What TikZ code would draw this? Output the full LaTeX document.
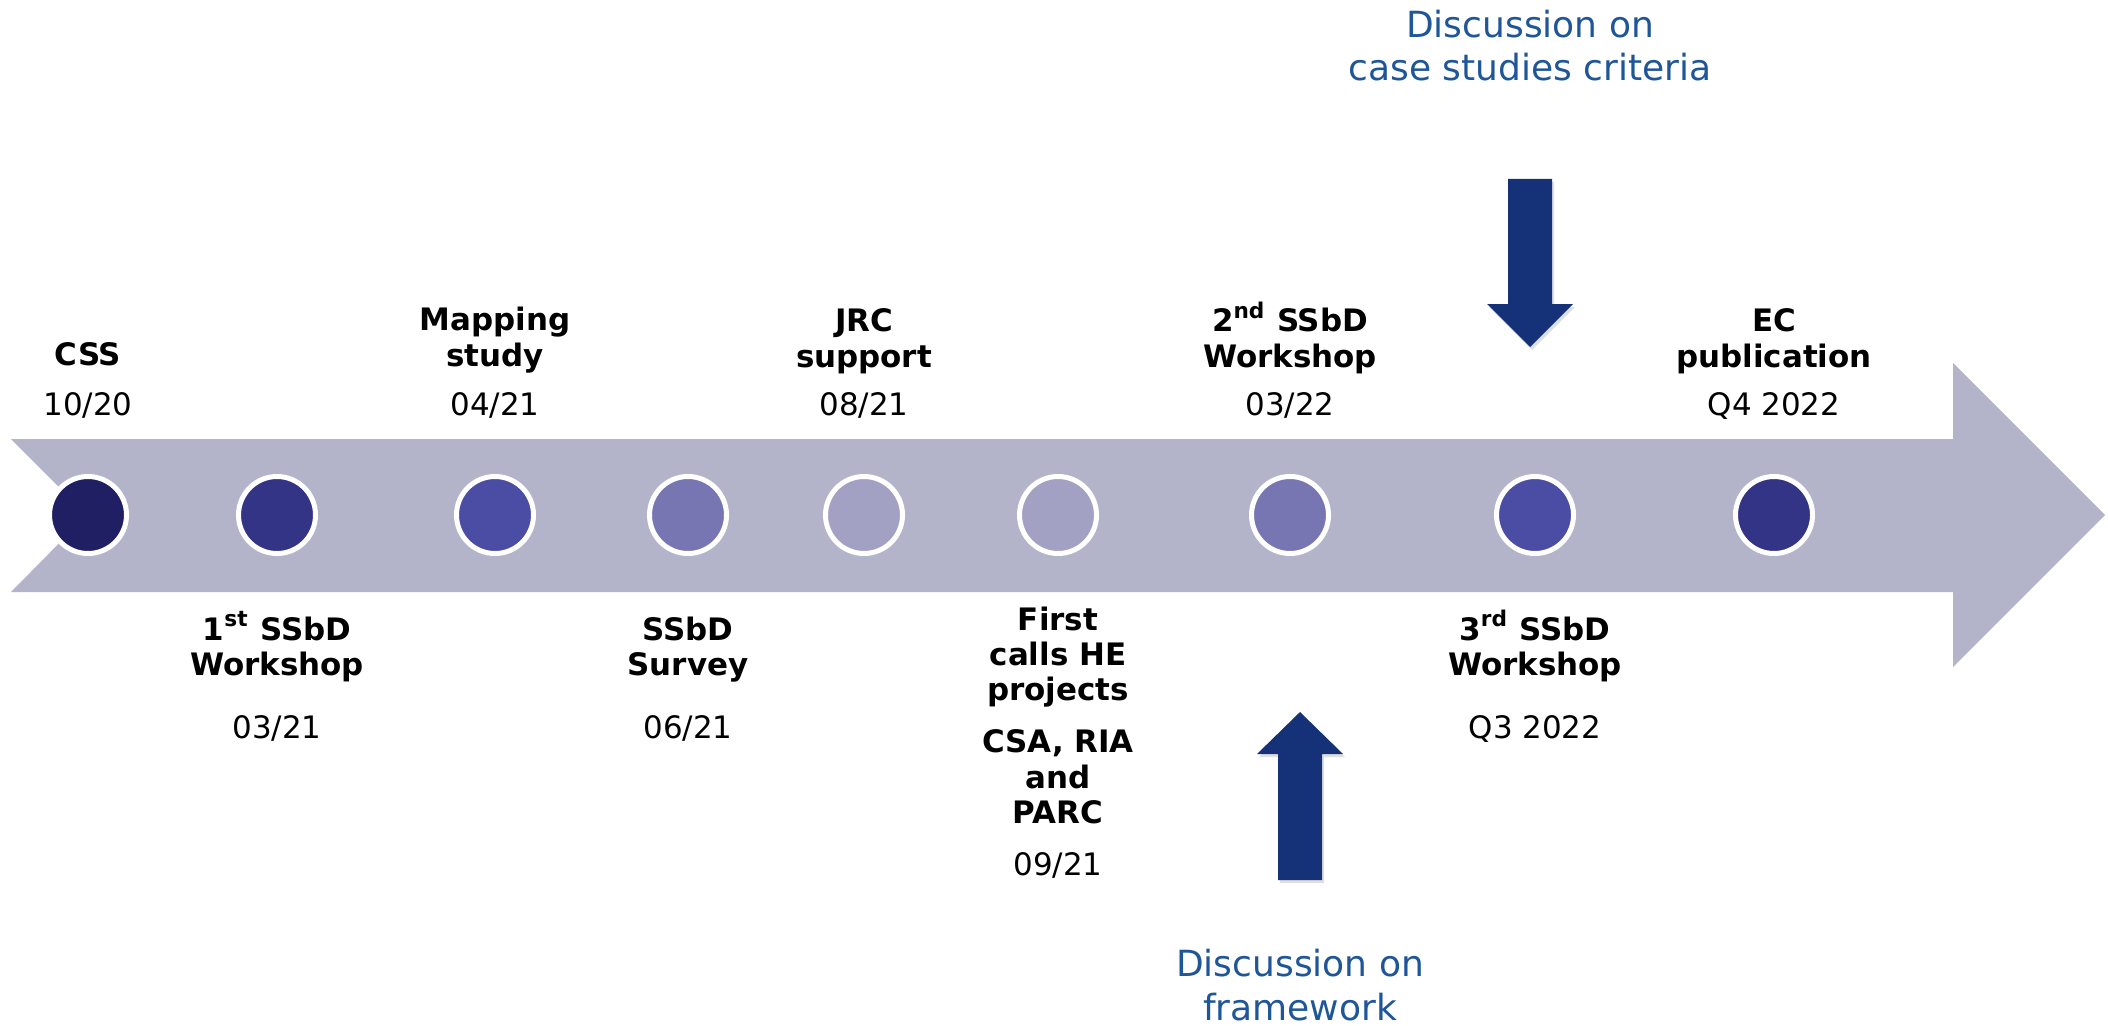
\documentclass[tikz,border=0pt]{standalone}
\usepackage{fontspec}
\setmainfont{DejaVu Sans}
\usetikzlibrary{shadows}

\definecolor{bandgray}{RGB}{179,180,201}
\definecolor{dotA}{RGB}{32,31,99}
\definecolor{dotB}{RGB}{52,52,134}
\definecolor{dotC}{RGB}{75,76,163}
\definecolor{dotD}{RGB}{119,118,178}
\definecolor{dotE}{RGB}{162,161,195}
\definecolor{navy}{RGB}{21,50,120}
\definecolor{noteblue}{RGB}{31,86,152}

\tikzset{
  evdot/.style={circle, draw=white, line width=0.05cm, minimum size=0.77cm, inner sep=0pt},
  evtitle/.style={anchor=base, align=center, inner sep=0pt, font=\fontsize{8.8}{9.96}\selectfont\bfseries},
  evdate/.style={anchor=base, inner sep=0pt, font=\fontsize{8.8}{9.96}\selectfont},
  evnote/.style={anchor=base, align=center, inner sep=0pt, text=noteblue, font=\fontsize{10.25}{12.5}\selectfont},
  blockarrow/.style={fill=navy, drop shadow={opacity=0.25, shadow xshift=0.02cm, shadow yshift=-0.03cm}}
}

\begin{document}
\begin{tikzpicture}

        \useasboundingbox (0,0) rectangle (21.08,-10.25);

        %Timeline band with notch and head
        \fill[bandgray] (0.11,-4.39) -- (19.53,-4.39) -- (19.53,-3.63) -- (21.05,-5.15)
            -- (19.53,-6.67) -- (19.53,-5.92) -- (0.11,-5.92) -- (0.87,-5.15) -- cycle;

        %Milestone dots
        \node[evdot, fill=dotA] (c1) at (0.88,-5.15) {};
        \node[evdot, fill=dotB] (c2) at (2.77,-5.15) {};
        \node[evdot, fill=dotC] (c3) at (4.95,-5.15) {};
        \node[evdot, fill=dotD] (c4) at (6.88,-5.15) {};
        \node[evdot, fill=dotE] (c5) at (8.64,-5.15) {};
        \node[evdot, fill=dotE] (c6) at (10.58,-5.15) {};
        \node[evdot, fill=dotD] (c7) at (12.90,-5.15) {};
        \node[evdot, fill=dotC] (c8) at (15.35,-5.15) {};
        \node[evdot, fill=dotB] (c9) at (17.74,-5.15) {};

        %Labels above the band (base = last line)
        \node[evtitle] (t1) at (0.88,-3.65) {CSS};
        \node[evdate] (d1) at (0.88,-4.15) {10/20};
        \node[evtitle] (t3) at (4.95,-3.66) {Mapping\\study};
        \node[evdate] (d3) at (4.95,-4.15) {04/21};
        \node[evtitle] (t5) at (8.64,-3.67) {JRC\\support};
        \node[evdate] (d5) at (8.64,-4.15) {08/21};
        \node[evtitle] (t7) at (12.90,-3.67) {2\textsuperscript{nd} SSbD\\Workshop};
        \node[evdate] (d7) at (12.90,-4.15) {03/22};
        \node[evtitle] (t9) at (17.74,-3.67) {EC\\publication};
        \node[evdate] (d9) at (17.74,-4.15) {Q4 2022};

        %Labels below the band
        \node[evtitle] (t2) at (2.77,-6.75) {1\textsuperscript{st} SSbD\\Workshop};
        \node[evdate] (d2) at (2.77,-7.38) {03/21};
        \node[evtitle] (t4) at (6.88,-6.75) {SSbD\\Survey};
        \node[evdate] (d4) at (6.88,-7.38) {06/21};
        \node[evtitle] (t6) at (10.58,-8.23) {First\\calls HE\\projects\\[0.17cm]CSA, RIA\\and\\PARC};
        \node[evdate] (d6) at (10.58,-8.75) {09/21};
        \node[evtitle] (t8) at (15.35,-6.75) {3\textsuperscript{rd} SSbD\\Workshop};
        \node[evdate] (d8) at (15.35,-7.38) {Q3 2022};

        %Discussion notes
        \node[evnote] (n1) at (15.30,-0.81) {Discussion on\\case studies criteria};
        \node[evnote] (n2) at (13.00,-10.20) {Discussion on\\framework};

        %Block arrows pointing at the band
        \fill[blockarrow] (15.08,-1.79) -- (15.52,-1.79) -- (15.52,-3.04) -- (15.73,-3.04)
            -- (15.30,-3.47) -- (14.87,-3.04) -- (15.08,-3.04) -- cycle; %down
        \fill[blockarrow] (12.78,-8.80) -- (13.22,-8.80) -- (13.22,-7.54) -- (13.43,-7.54)
            -- (13.00,-7.12) -- (12.57,-7.54) -- (12.78,-7.54) -- cycle; %up

    \end{tikzpicture}
\end{document}
